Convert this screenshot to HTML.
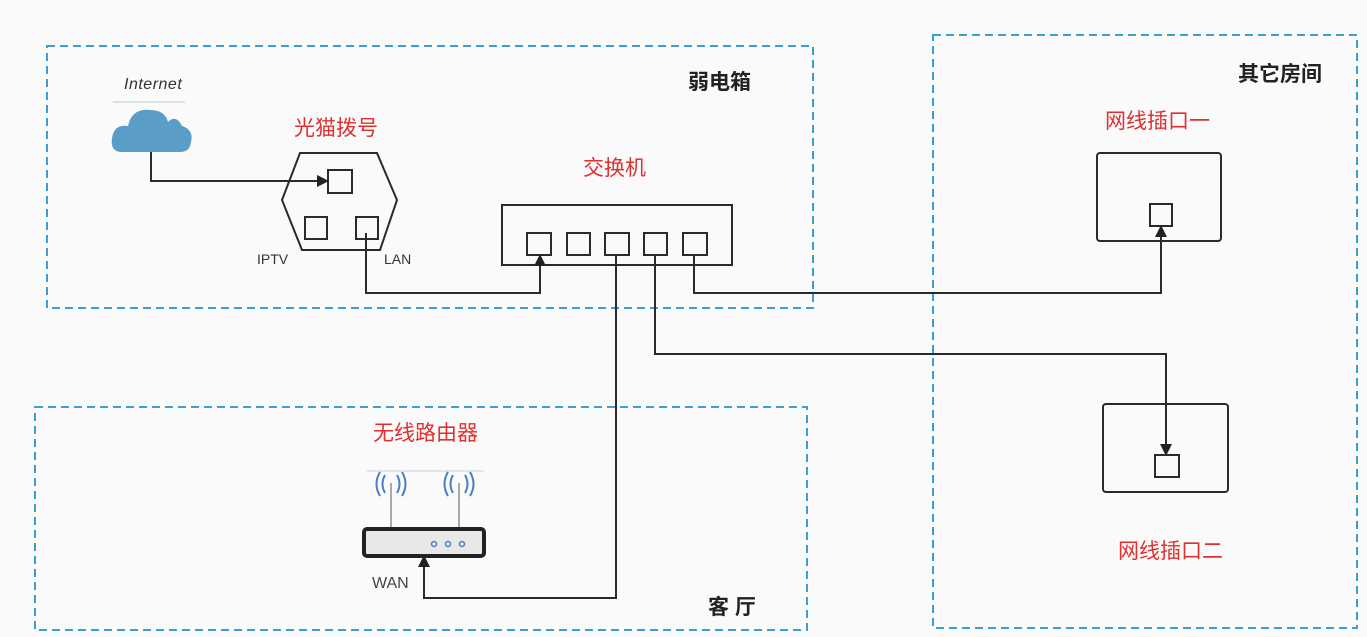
<!DOCTYPE html>
<html><head><meta charset="utf-8"><style>
html,body{margin:0;padding:0;background:#fafafa;}
svg{display:block;}
text{font-family:"Liberation Sans","Noto Sans CJK SC",sans-serif;}
</style></head><body>
<svg width="1367" height="637" viewBox="0 0 1367 637" xmlns="http://www.w3.org/2000/svg">
<defs><marker id="b" markerWidth="12" markerHeight="12" refX="11" refY="6" orient="auto" markerUnits="userSpaceOnUse"><path d="M0,0 L12,6 L0,12 Z" fill="#222"/></marker></defs>
<rect width="1367" height="637" fill="#fafafa"/>
<g fill="none" stroke="#3a9fd6" stroke-width="2" stroke-dasharray="8,5">
<rect x="47" y="46" width="766" height="262"/>
<rect x="35" y="407" width="772" height="223"/>
<rect x="933" y="35" width="424" height="593"/>
</g>
<g font-weight="bold" font-size="21" fill="#222">
<text x="688" y="89">弱电箱</text>
<text x="1238" y="81">其它房间</text>
<text x="708" y="614">客 厅</text>
</g>
<g font-size="21" fill="#e03030">
<text x="294" y="135">光猫拨号</text>
<text x="583" y="175">交换机</text>
<text x="1105" y="128">网线插口一</text>
<text x="1118" y="558">网线插口二</text>
<text x="373" y="440">无线路由器</text>
</g>
<text x="124" y="89" font-size="16" font-style="italic" fill="#333" letter-spacing="0.5">Internet</text>
<line x1="113" y1="102" x2="185" y2="102" stroke="#bcc" stroke-width="1"/>
<path d="M122,152 Q110,152 112,138 Q114,124 128,126 Q132,108 150,110 Q165,110 168,122 Q176,114 182,126 Q194,130 191,142 Q190,152 180,152 Z" fill="#5a9ec7"/>
<g fill="none" stroke="#2a2a2a" stroke-width="2">
<polygon points="300,153 377,153 397,200 380,250 302,250 282,200"/>
<rect x="328" y="170" width="24" height="23"/>
<rect x="305" y="217" width="22" height="22"/>
<rect x="356" y="217" width="22" height="22"/>
<rect x="502" y="205" width="230" height="60"/>
<rect x="527" y="233" width="24" height="22"/>
<rect x="567" y="233" width="23" height="22"/>
<rect x="605" y="233" width="24" height="22"/>
<rect x="644" y="233" width="23" height="22"/>
<rect x="683" y="233" width="24" height="22"/>
<rect x="1097" y="153" width="124" height="88" rx="3"/>
<rect x="1150" y="204" width="22" height="22"/>
<rect x="1103" y="404" width="125" height="88" rx="3"/>
<rect x="1155" y="455" width="24" height="22"/>
<path d="M151,152 V181 H328" marker-end="url(#b)"/>
<path d="M366,233 V293 H540 V255" marker-end="url(#b)"/>
<path d="M616,255 V598 H424 V556" marker-end="url(#b)"/>
<path d="M655,255 V354 H1166 V455" marker-end="url(#b)"/>
<path d="M694,255 V293 H1161 V226" marker-end="url(#b)"/>
</g>
<text x="257" y="264" font-size="14" fill="#333">IPTV</text>
<text x="384" y="264" font-size="14" fill="#333">LAN</text>
<text x="372" y="588" font-size="16" fill="#444">WAN</text>
<line x1="367" y1="471" x2="484" y2="471" stroke="#ccd" stroke-width="1"/>
<g stroke="#aaa" stroke-width="2"><line x1="391" y1="483" x2="391" y2="528"/><line x1="459" y1="483" x2="459" y2="528"/></g>
<g fill="none" stroke="#4a7fc8" stroke-width="2">
<path d="M385,475 Q380,484 385,493"/><path d="M380,472 Q373,484 380,496"/><path d="M397,475 Q402,484 397,493"/><path d="M402,472 Q409,484 402,496"/>
<path d="M453,475 Q448,484 453,493"/><path d="M448,472 Q441,484 448,496"/><path d="M465,475 Q470,484 465,493"/><path d="M470,472 Q477,484 470,496"/>
</g>
<rect x="364" y="529" width="120" height="27" rx="3" fill="#e8e8e8" stroke="#222" stroke-width="4"/>
<g fill="none" stroke="#4a7fc8" stroke-width="1.5"><circle cx="434" cy="544" r="2.5"/><circle cx="448" cy="544" r="2.5"/><circle cx="462" cy="544" r="2.5"/></g>
</svg>
</body></html>
